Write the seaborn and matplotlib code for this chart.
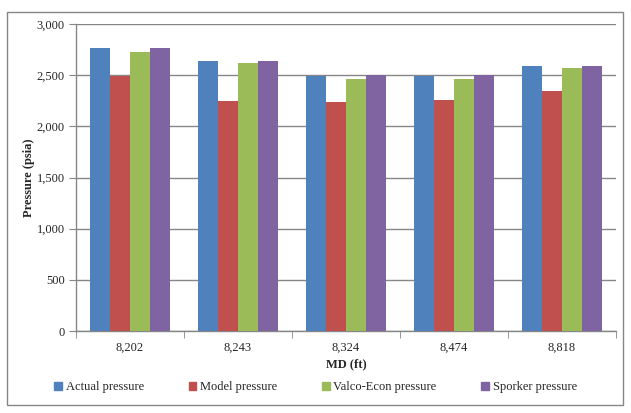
import matplotlib
matplotlib.use("Agg")
import matplotlib.pyplot as plt
import seaborn as sns
import pandas as pd
from matplotlib.patches import Rectangle
from matplotlib.ticker import FuncFormatter, MultipleLocator, FixedLocator

# Data
depths = ["8,202", "8,243", "8,324", "8,474", "8,818"]
actual = [2770, 2640, 2495, 2495, 2590]
model = [2495, 2245, 2235, 2255, 2345]
valco = [2730, 2620, 2460, 2460, 2570]
sporker = [2770, 2640, 2500, 2500, 2590]
series = ["Actual pressure", "Model pressure", "Valco-Econ pressure", "Sporker pressure"]
colors = ["#4F81BD", "#C0504D", "#9BBB59", "#8064A2"]

df = pd.DataFrame({"MD": depths, series[0]: actual, series[1]: model,
                   series[2]: valco, series[3]: sporker})
long_df = df.melt(id_vars="MD", var_name="Series", value_name="Pressure")

sns.set_style("white")
plt.rcParams["font.family"] = ["Liberation Serif", "DejaVu Serif"]

fig = plt.figure(figsize=(6.31, 4.13), dpi=100)
ax = fig.add_axes([76/631, 1-331/413, 540/631, 307/413])

sns.barplot(data=long_df, x="MD", y="Pressure", hue="Series", palette=colors,
            width=0.74, gap=0, saturation=1, errorbar=None, linewidth=0,
            ax=ax, zorder=3)

ax.set_ylim(0, 3000)
ax.set_xlim(-0.5, 4.5)
ax.yaxis.set_major_locator(MultipleLocator(500))
ax.yaxis.set_major_formatter(FuncFormatter(lambda v, p: f"{int(v):,}"))
ax.grid(axis="y", color="#868686", linewidth=1, zorder=0)
ax.set_axisbelow(True)

for s in ["top", "right"]:
    ax.spines[s].set_visible(False)
for s in ["left", "bottom"]:
    ax.spines[s].set_color("#868686")
    ax.spines[s].set_linewidth(1)

ax.tick_params(axis="y", which="major", length=5, color="#868686", direction="out",
               labelsize=9, pad=3, left=True)
ax.tick_params(axis="x", which="major", length=0, labelsize=9, pad=8)
ax.xaxis.set_minor_locator(FixedLocator([-0.5, 0.5, 1.5, 2.5, 3.5, 4.5]))
ax.tick_params(axis="x", which="minor", length=5, color="#868686", direction="out",
               bottom=True)

ax.set_xlabel("MD (ft)", fontsize=9, fontweight="bold", labelpad=3)
ax.set_ylabel("Pressure (psia)", fontsize=9, fontweight="bold", labelpad=1)

ax.get_legend().remove()
handles = [Rectangle((0, 0), 1, 1, color=c) for c in colors]
fig.legend(handles, series, loc="center", bbox_to_anchor=(0.5, 1-387/413), ncol=4,
           frameon=False, fontsize=9, handlelength=0.6, handleheight=0.6,
           handletextpad=0.3, columnspacing=3.6)

fig.patches.append(Rectangle((7/631, 1-405/413), 616/631, 393/413, fill=False,
                             edgecolor="#868686", linewidth=1, transform=fig.transFigure))

fig.savefig("out.png", dpi=100)
